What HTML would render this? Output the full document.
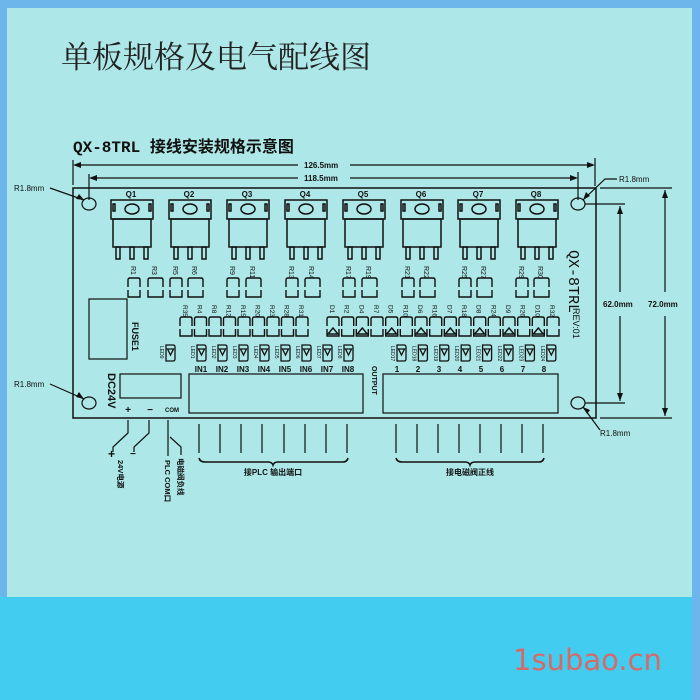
<!DOCTYPE html>
<html><head><meta charset="utf-8"><style>
html,body{margin:0;padding:0;width:700px;height:700px;overflow:hidden;background:#6cb6ec}
svg{display:block}
text{font-family:"Liberation Sans","Noto Sans CJK SC",sans-serif;fill:#111}
</style></head><body>
<svg width="700" height="700" viewBox="0 0 700 700" xmlns="http://www.w3.org/2000/svg">
<defs>
<g id="res" fill="none" stroke="#111" stroke-width="1.4"><path d="M0,9 V2 Q0,0 2,0 H10 Q12,0 12,2 V9 M0,12 V19 H12 V12"/></g>
<g id="resw" fill="none" stroke="#111" stroke-width="1.4"><path d="M0,9 V2 Q0,0 2,0 H13 Q15,0 15,2 V9 M0,12 V19 H15 V12"/></g>
<g id="dio" fill="none" stroke="#111" stroke-width="1.4"><path d="M0,9 V2 Q0,0 2,0 H10 Q12,0 12,2 V9 M0,12 V19 H12 V12 M1,17 L6,11 L11,17 Z"/></g>
<g id="led" fill="none" stroke="#111" stroke-width="1.3"><path d="M0,0 H7 Q9,0 9,2 V14 Q9,16 7,16 H0 Z M1.5,4 H7.5 L4.5,10 Z"/></g>
<g id="tr" fill="none" stroke="#111" stroke-width="1.5">
<rect x="0" y="0" width="42" height="19"/><ellipse cx="21" cy="9" rx="7" ry="5"/>
<path d="M2,4 V11 H4 V4 Z M38,4 V11 H40 V4 Z"/>
<rect x="2" y="19" width="38" height="28"/>
<rect x="5" y="47" width="4" height="12"/><rect x="19" y="47" width="4" height="12"/><rect x="33" y="47" width="4" height="12"/></g>
</defs>
<rect x="7" y="8" width="685" height="590" fill="#ade7e7"/>
<rect x="0" y="597" width="692" height="103" fill="#42cdf0"/>
<text x="513" y="670" style="font-size:29px;fill:#d56a6a;font-family:'DejaVu Sans',sans-serif">1subao.cn</text>

<text x="61" y="68" style="font-size:31px;font-family:'Noto Serif CJK SC',serif;fill:#222">单板规格及电气配线图</text>
<text x="73" y="152" style="font-size:16px;font-weight:bold;font-family:'Liberation Mono','Noto Sans CJK SC',monospace">QX-8TRL 接线安装规格示意图</text>

<g stroke="#111" stroke-width="1.2" fill="none">
<rect x="73" y="188" width="523" height="230" stroke-width="1.5"/>
<ellipse cx="89" cy="204" rx="7" ry="6"/><ellipse cx="89" cy="403" rx="7" ry="6"/>
<ellipse cx="578" cy="204" rx="7" ry="6"/><ellipse cx="578" cy="403" rx="7" ry="6"/>
<path d="M73,160 V185 M595,158 V186 M89,174 V200 M578,172 V200"/>
<path d="M75,165 H298 M350,165 H593 M91,178 H298 M350,178 H576"/>
<path d="M600,188 H672 M600,418 H672 M585,204 H625 M585,403 H625"/>
<path d="M665,190 V292 M665,316 V416 M620,206 V292 M620,316 V401"/>
<path d="M50,188 L84,200 M50,384 L84,399 M617,179 H605 L583,200 M600,430 L583,407"/>
<rect x="89" y="299" width="38" height="60"/>
<rect x="120" y="374" width="61" height="24"/>
<rect x="189" y="374" width="174" height="39"/>
<rect x="383" y="374" width="175" height="39"/>
<path d="M128,420 V433 L113,447 V452 M149,420 V433 L134,447 V452 M168,420 V456 M170,437 L181,447 V455"/>
<path d="M199,424 V453 M220,424 V453 M241,424 V453 M262,424 V453 M284,424 V453 M305,424 V453 M326,424 V453 M347,424 V453"/>
<path d="M396,424 V453 M417,424 V453 M438,424 V453 M459,424 V453 M480,424 V453 M501,424 V453 M522,424 V453 M543,424 V453"/>
<path d="M199,458 Q200,462 205,462 H268 Q272,462 273,465 Q274,462 278,462 H343 Q347,462 348,458" stroke-width="1.6"/>
<path d="M396,458 Q397,462 402,462 H465 Q469,462 470,465 Q471,462 475,462 H539 Q543,462 544,458" stroke-width="1.6"/>
</g>
<g fill="#111">
<path d="M73,165 l8,-3 v6 z M595,165 l-8,-3 v6 z M89,178 l8,-3 v6 z M578,178 l-8,-3 v6 z"/>
<path d="M665,190 l-3,8 h6 z M665,416 l-3,-8 h6 z M620,206 l-3,8 h6 z M620,401 l-3,-8 h6 z"/>
<path d="M84,200 l-8,-1 l3,-5 z M84,399 l-8,-2 l3,-5 z M583,200 l3,-8 l4,4 z M583,407 l7,3 l-3,4 z"/>
</g>
<g style="font-size:8px;font-weight:bold">
<text x="304" y="168">126.5mm</text><text x="304" y="181">118.5mm</text>
<text x="603" y="307">62.0mm</text><text x="648" y="307">72.0mm</text>
<text x="14" y="191" style="font-weight:normal">R1.8mm</text><text x="14" y="387" style="font-weight:normal">R1.8mm</text>
<text x="619" y="182" style="font-weight:normal">R1.8mm</text><text x="600" y="436" style="font-weight:normal">R1.8mm</text>
</g>
<g style="font-size:8px;font-weight:bold" text-anchor="middle">
<use href="#tr" x="111" y="200"/><text x="131" y="197">Q1</text>
<use href="#tr" x="169" y="200"/><text x="189" y="197">Q2</text>
<use href="#tr" x="227" y="200"/><text x="247" y="197">Q3</text>
<use href="#tr" x="285" y="200"/><text x="305" y="197">Q4</text>
<use href="#tr" x="343" y="200"/><text x="363" y="197">Q5</text>
<use href="#tr" x="401" y="200"/><text x="421" y="197">Q6</text>
<use href="#tr" x="458" y="200"/><text x="478" y="197">Q7</text>
<use href="#tr" x="516" y="200"/><text x="536" y="197">Q8</text>
</g>
<use href="#res" x="128" y="278"/><use href="#resw" x="148" y="278"/>
<use href="#res" x="170" y="278"/><use href="#resw" x="188" y="278"/>
<use href="#res" x="227" y="278"/><use href="#resw" x="246" y="278"/>
<use href="#res" x="286" y="278"/><use href="#resw" x="305" y="278"/>
<use href="#res" x="343" y="278"/><use href="#resw" x="362" y="278"/>
<use href="#res" x="402" y="278"/><use href="#resw" x="420" y="278"/>
<use href="#res" x="459" y="278"/><use href="#resw" x="477" y="278"/>
<use href="#res" x="516" y="278"/><use href="#resw" x="534" y="278"/>
<g style="font-size:7px">
<text transform="translate(131,266) rotate(90)">R1</text><text transform="translate(152,266) rotate(90)">R3</text>
<text transform="translate(173,266) rotate(90)">R5</text><text transform="translate(192,266) rotate(90)">R6</text>
<text transform="translate(230,266) rotate(90)">R9</text><text transform="translate(250,266) rotate(90)">R11</text>
<text transform="translate(289,266) rotate(90)">R13</text><text transform="translate(309,266) rotate(90)">R14</text>
<text transform="translate(346,266) rotate(90)">R17</text><text transform="translate(366,266) rotate(90)">R19</text>
<text transform="translate(405,266) rotate(90)">R21</text><text transform="translate(424,266) rotate(90)">R22</text>
<text transform="translate(462,266) rotate(90)">R25</text><text transform="translate(481,266) rotate(90)">R27</text>
<text transform="translate(519,266) rotate(90)">R29</text><text transform="translate(538,266) rotate(90)">R30</text>
</g>
<use href="#res" x="180" y="317"/><use href="#res" x="194.5" y="317"/><use href="#res" x="209" y="317"/>
<use href="#res" x="223.5" y="317"/><use href="#res" x="238" y="317"/><use href="#res" x="252.5" y="317"/>
<use href="#res" x="267" y="317"/><use href="#res" x="281.5" y="317"/><use href="#res" x="296" y="317"/>
<use href="#dio" x="327" y="317"/><use href="#res" x="341.7" y="317"/><use href="#dio" x="356.3" y="317"/><use href="#res" x="371" y="317"/>
<use href="#dio" x="385.7" y="317"/><use href="#res" x="400.3" y="317"/><use href="#dio" x="415" y="317"/><use href="#res" x="429.7" y="317"/>
<use href="#dio" x="444.3" y="317"/><use href="#res" x="459" y="317"/><use href="#dio" x="473.7" y="317"/><use href="#res" x="488.3" y="317"/>
<use href="#dio" x="503" y="317"/><use href="#res" x="517.7" y="317"/><use href="#dio" x="532.3" y="317"/><use href="#res" x="547" y="317"/>
<g style="font-size:6.5px">
<text transform="translate(183,305) rotate(90)">R35</text><text transform="translate(197.5,305) rotate(90)">R4</text>
<text transform="translate(212,305) rotate(90)">R8</text><text transform="translate(226.5,305) rotate(90)">R12</text>
<text transform="translate(241,305) rotate(90)">R15</text><text transform="translate(255.5,305) rotate(90)">R20</text>
<text transform="translate(270,305) rotate(90)">R23</text><text transform="translate(284.5,305) rotate(90)">R28</text>
<text transform="translate(299,305) rotate(90)">R31</text>
<text transform="translate(330,305) rotate(90)">D1</text><text transform="translate(344.7,305) rotate(90)">R2</text>
<text transform="translate(359.3,305) rotate(90)">D4</text><text transform="translate(374,305) rotate(90)">R7</text>
<text transform="translate(388.7,305) rotate(90)">D5</text><text transform="translate(403.3,305) rotate(90)">R10</text>
<text transform="translate(418,305) rotate(90)">D6</text><text transform="translate(432.7,305) rotate(90)">R16</text>
<text transform="translate(447.3,305) rotate(90)">D7</text><text transform="translate(462,305) rotate(90)">R18</text>
<text transform="translate(476.7,305) rotate(90)">D8</text><text transform="translate(491.3,305) rotate(90)">R24</text>
<text transform="translate(506,305) rotate(90)">D9</text><text transform="translate(520.7,305) rotate(90)">R26</text>
<text transform="translate(535.3,305) rotate(90)">D10</text><text transform="translate(550,305) rotate(90)">R32</text>
</g>
<use href="#led" x="166" y="345"/>
<use href="#led" x="197" y="345"/><use href="#led" x="218" y="345"/><use href="#led" x="239" y="345"/><use href="#led" x="260" y="345"/>
<use href="#led" x="281" y="345"/><use href="#led" x="302" y="345"/><use href="#led" x="323" y="345"/><use href="#led" x="344" y="345"/>
<use href="#led" x="397" y="345"/><use href="#led" x="418.4" y="345"/><use href="#led" x="439.8" y="345"/><use href="#led" x="461.2" y="345"/>
<use href="#led" x="482.6" y="345"/><use href="#led" x="504" y="345"/><use href="#led" x="525.4" y="345"/><use href="#led" x="546.8" y="345"/>
<g style="font-size:5px">
<text transform="translate(160,346) rotate(90)">LED9</text>
<text transform="translate(191,346) rotate(90)">LED1</text><text transform="translate(212,346) rotate(90)">LED2</text>
<text transform="translate(233,346) rotate(90)">LED3</text><text transform="translate(254,346) rotate(90)">LED4</text>
<text transform="translate(275,346) rotate(90)">LED5</text><text transform="translate(296,346) rotate(90)">LED6</text>
<text transform="translate(317,346) rotate(90)">LED7</text><text transform="translate(338,346) rotate(90)">LED8</text>
<text transform="translate(391,346) rotate(90)">LED17</text><text transform="translate(412.4,346) rotate(90)">LED18</text>
<text transform="translate(433.8,346) rotate(90)">LED19</text><text transform="translate(455.2,346) rotate(90)">LED20</text>
<text transform="translate(476.6,346) rotate(90)">LED21</text><text transform="translate(498,346) rotate(90)">LED22</text>
<text transform="translate(519.4,346) rotate(90)">LED23</text><text transform="translate(540.8,346) rotate(90)">LED24</text>
</g>
<g style="font-size:8px;font-weight:bold" text-anchor="middle">
<text x="201" y="372">IN1</text><text x="222" y="372">IN2</text><text x="243" y="372">IN3</text><text x="264" y="372">IN4</text>
<text x="285" y="372">IN5</text><text x="306" y="372">IN6</text><text x="327" y="372">IN7</text><text x="348" y="372">IN8</text>
<text x="397" y="372">1</text><text x="418" y="372">2</text><text x="439" y="372">3</text><text x="460" y="372">4</text>
<text x="481" y="372">5</text><text x="502" y="372">6</text><text x="523" y="372">7</text><text x="544" y="372">8</text>
<text x="128" y="413" style="font-size:10px">+</text><text x="150" y="413" style="font-size:10px">−</text>
<text x="172" y="412" style="font-size:6px">COM</text>
</g>
<g style="font-weight:bold">
<text transform="translate(132,322) rotate(90)" style="font-size:9px">FUSE1</text>
<text transform="translate(108,373) rotate(90)" style="font-size:11px">DC24V</text>
<text transform="translate(372,366) rotate(90)" style="font-size:7px">OUTPUT</text>
<text transform="translate(569,250) rotate(90)" style="font-size:15px;font-weight:normal;font-family:'Liberation Mono',monospace">QX-8TRL</text>
<text transform="translate(573,308) rotate(90)" style="font-size:9px;font-weight:normal">REV:01</text>
<text x="108" y="458" style="font-size:12px">+</text><text x="130" y="457" style="font-size:10px">−</text>
<text transform="translate(118,460) rotate(90)" style="font-size:7.5px">24V电源</text>
<text transform="translate(165,460) rotate(90)" style="font-size:7.5px">PLC COM口</text>
<text transform="translate(178,458) rotate(90)" style="font-size:7.5px">电磁阀负线</text>
<text x="273" y="475" text-anchor="middle" style="font-size:8px">接PLC 输出端口</text>
<text x="470" y="475" text-anchor="middle" style="font-size:8px">接电磁阀正线</text>
</g>
</svg>
</body></html>
